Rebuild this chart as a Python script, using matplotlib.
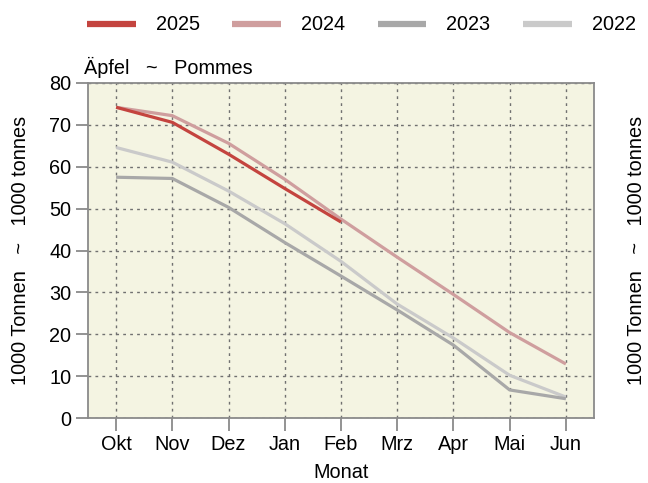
import matplotlib
matplotlib.use('Agg')
import matplotlib.pyplot as plt
from matplotlib.lines import Line2D

plt.rcParams['font.family'] = ['Liberation Sans', 'DejaVu Sans']

months = ['Okt', 'Nov', 'Dez', 'Jan', 'Feb', 'Mrz', 'Apr', 'Mai', 'Jun']
y2025 = [74.2, 70.6, 63.0, 54.8, 46.8]
y2024 = [74.2, 72.2, 65.6, 57.0, 47.5, 38.4, 29.5, 20.4, 12.9]
y2023 = [57.5, 57.2, 50.3, 41.9, 33.9, 25.8, 17.4, 6.7, 4.6]
y2022 = [64.6, 61.1, 54.2, 46.4, 37.4, 27.2, 19.1, 10.2, 5.0]

years = ['2025', '2024', '2023', '2022']
colors = ['#c4443f', '#cf9e9e', '#a8a8a8', '#cacaca']
fs = 14.3

fig = plt.figure(figsize=(6.48, 4.83), dpi=100)
ax = fig.add_axes([88 / 648, 1 - 418 / 483, (594 - 88) / 648, (418 - 83) / 483])
ax.set_facecolor('#f4f4e2')

x = list(range(len(months)))
# draw older years first so 2025 sits on top
for vals, col in zip([y2022, y2023, y2024, y2025], colors[::-1]):
    ax.plot(x[:len(vals)], vals, color=col, lw=2.3, solid_capstyle='butt', zorder=3)

ax.set_xlim(-0.5, 8.5)
ax.set_ylim(0, 80)
ax.set_yticks(range(0, 81, 10))
ax.set_xticks(x)
ax.set_xticklabels(months)
ax.grid(True, color='#707070', linestyle=(0, (2, 3)), linewidth=1.0)
for s in ax.spines.values():
    s.set_color('#8a8a8a')
    s.set_linewidth(1.3)
ax.tick_params(axis='both', colors='#8a8a8a', labelcolor='black', labelsize=fs,
               length=9, width=1.3, pad=3)

ylab = '1000 Tonnen   ~   1000 tonnes'
fig.text(0.5 * (88 + 594) / 648, 1 - 473 / 483, 'Monat', ha='center', va='center', fontsize=fs)
fig.text(21 / 648, 1 - 250 / 483, ylab, rotation=90, ha='center', va='center', fontsize=fs)
fig.text(637 / 648, 1 - 250 / 483, ylab, rotation=90, ha='center', va='center', fontsize=fs)
fig.text(84 / 648, 1 - 67 / 483, 'Äpfel   ~   Pommes', ha='left', va='center', fontsize=fs)

handles = [Line2D([], [], color=c, lw=4.5, solid_capstyle='butt') for c in colors]
fig.legend(handles, years, loc='center left', bbox_to_anchor=(87 / 648, 1 - 25 / 483), ncol=4,
           frameon=False, fontsize=fs, handlelength=2.45, columnspacing=1.65,
           handletextpad=1.0, borderpad=0, borderaxespad=0)

fig.savefig('out.png', dpi=100)
